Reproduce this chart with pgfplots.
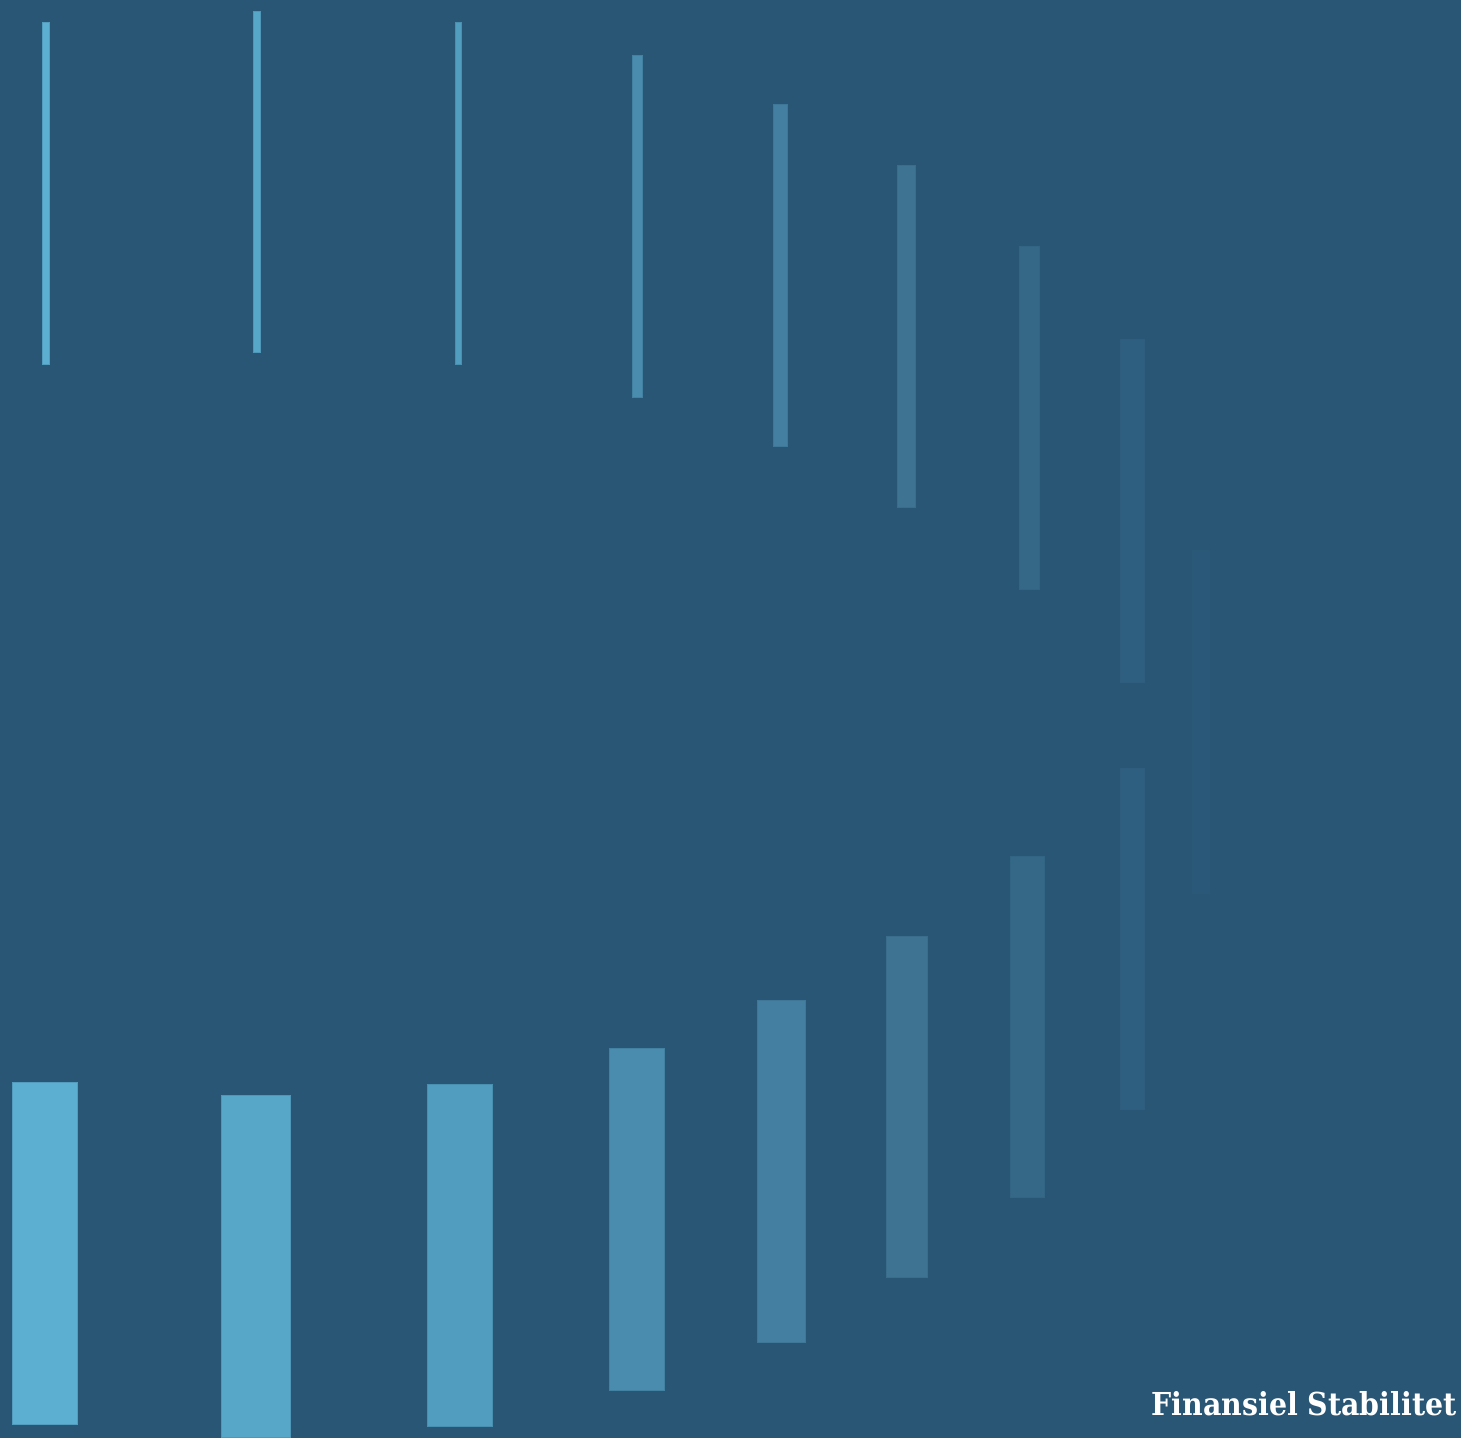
\documentclass[border=0pt]{standalone}
\usepackage{pgfplots}
\pgfplotsset{compat=1.18}
\usepackage{fontspec}
\newfontfamily\slab{DejaVu Serif Condensed}

\definecolor{bgc}{HTML}{285674}
\definecolor{cA}{HTML}{5CAFD1}
\definecolor{cB}{HTML}{57A7C9}
\definecolor{cC}{HTML}{519DBF}
\definecolor{cD}{HTML}{4A8CAD}
\definecolor{cE}{HTML}{447FA1}
\definecolor{cF}{HTML}{3E7392}
\definecolor{cG}{HTML}{356787}
\definecolor{cH}{HTML}{2F5F80}
\definecolor{cI}{HTML}{2A5878}

\begin{document}
\begin{tikzpicture}
\begin{axis}[
    scale only axis,
    width=730.5pt, height=719pt,
    xmin=0, xmax=1461, ymin=0, ymax=1438,
    y dir=reverse,
    hide axis,
    clip=true,
    bar/.style={fill=#1, draw=#1!80!bgc, line width=0.5pt},
    ]
% background
\addplot[fill=bgc, draw=none] coordinates {(0,0)(1461,0)(1461,1438)(0,1438)} -- cycle;

% upper row of thin bars
\addplot[bar=cA] coordinates {(42,23)(49,23)(49,365)(42,365)} -- cycle;
\addplot[bar=cB] coordinates {(253,12)(260,12)(260,353)(253,353)} -- cycle;
\addplot[bar=cC] coordinates {(455,23)(461,23)(461,365)(455,365)} -- cycle;
\addplot[bar=cD] coordinates {(632,56)(642,56)(642,398)(632,398)} -- cycle;
\addplot[bar=cE] coordinates {(773,105)(787,105)(787,447)(773,447)} -- cycle;
\addplot[bar=cF] coordinates {(897,166)(915,166)(915,508)(897,508)} -- cycle;
\addplot[bar=cG] coordinates {(1019,247)(1039,247)(1039,589)(1019,589)} -- cycle;
\addplot[bar=cH] coordinates {(1120,340)(1144,340)(1144,682)(1120,682)} -- cycle;
\addplot[bar=cI] coordinates {(1192,551)(1209,551)(1209,893)(1192,893)} -- cycle;

% lower row of wide bars
\addplot[bar=cA] coordinates {(12,1082)(77,1082)(77,1424)(12,1424)} -- cycle;
\addplot[bar=cB] coordinates {(221,1095)(290,1095)(290,1437)(221,1437)} -- cycle;
\addplot[bar=cC] coordinates {(427,1084)(492,1084)(492,1426)(427,1426)} -- cycle;
\addplot[bar=cD] coordinates {(609,1048)(664,1048)(664,1390)(609,1390)} -- cycle;
\addplot[bar=cE] coordinates {(757,1000)(805,1000)(805,1342)(757,1342)} -- cycle;
\addplot[bar=cF] coordinates {(886,936)(927,936)(927,1277)(886,1277)} -- cycle;
\addplot[bar=cG] coordinates {(1010,856)(1044,856)(1044,1197)(1010,1197)} -- cycle;
\addplot[bar=cH] coordinates {(1120,768)(1144,768)(1144,1109)(1120,1109)} -- cycle;

\node[anchor=base east, inner sep=0pt, text=white, font=\slab\bfseries\fontsize{15.8pt}{18pt}\selectfont]
    at (axis cs:1457,1415) {Finansiel Stabilitet};
\end{axis}
\end{tikzpicture}
\end{document}
